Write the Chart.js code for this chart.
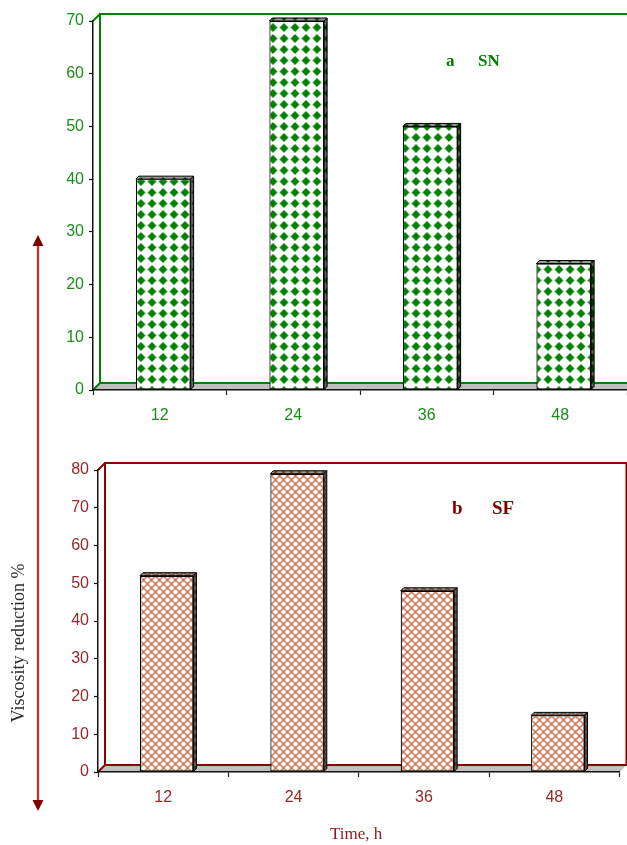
<!DOCTYPE html>
<html>
<head>
<meta charset="utf-8">
<script src="https://cdn.jsdelivr.net/npm/chart.js@4.4.1/dist/chart.umd.min.js"></script>
<style>
  html, body { margin: 0; padding: 0; background: #fff; }
  #wrap { position: relative; width: 627px; height: 845px; overflow: hidden; }
  #c1 { position: absolute; left: 0; top: 0; }
  #c2 { position: absolute; left: 0; top: 440px; }
  .lbl { position: absolute; white-space: nowrap; line-height: 1; font-family: "Liberation Serif", "Times New Roman", serif; }
  #arrow { position: absolute; left: 0; top: 0; pointer-events: none; }
</style>
</head>
<body>
<div id="wrap">
  <canvas id="c1" width="627" height="440"></canvas>
  <canvas id="c2" width="627" height="405"></canvas>

  <svg id="arrow" width="627" height="845">
    <line x1="38" y1="244" x2="38" y2="801" stroke="#a83c3c" stroke-width="2.4"/>
    <polygon points="38,235 32.5,246 43.5,246" fill="#800000"/>
    <polygon points="38,811 32.5,800 43.5,800" fill="#800000"/>
  </svg>

  <span class="lbl" style="left:446px; top:52px; font-size:17px; font-weight:bold; color:#008000;">a</span>
  <span class="lbl" style="left:478px; top:52px; font-size:17px; font-weight:bold; color:#008000;">SN</span>
  <span class="lbl" style="left:452px; top:498px; font-size:19px; font-weight:bold; color:#800000;">b</span>
  <span class="lbl" style="left:492px; top:498px; font-size:19px; font-weight:bold; color:#800000;">SF</span>

  <span class="lbl" style="left:330px; top:825px; font-size:17px; color:#8b1a1a;">Time, h</span>
  <div class="lbl" style="left:18px; top:643px; font-size:18px; color:#2a2a2a; transform: translate(-50%, -50%) rotate(-90deg);">Viscosity reduction %</div>
</div>

<script>
// Reaction time (h) and viscosity reduction (%) for the two oils
const timeLabels = ['12', '24', '36', '48'];
const snValues = [40, 70, 50, 24];
const sfValues = [52, 79, 48, 15];
const snAxisMax = 70;
const sfAxisMax = 80;
const axisStep = 10;

// Fill patterns for the bars
function diamondPattern(color) {
  const s = 11, c = document.createElement('canvas');
  c.width = s; c.height = s;
  const g = c.getContext('2d');
  g.fillStyle = '#fff'; g.fillRect(0, 0, s, s);
  g.fillStyle = color;
  const m = s / 2, r = 4.4;
  g.beginPath();
  g.moveTo(m, m - r); g.lineTo(m + r, m); g.lineTo(m, m + r); g.lineTo(m - r, m);
  g.closePath(); g.fill();
  return g.createPattern(c, 'repeat');
}
function hatchPattern(color) {
  const s = 8, c = document.createElement('canvas');
  c.width = s; c.height = s;
  const g = c.getContext('2d');
  g.fillStyle = '#fff'; g.fillRect(0, 0, s, s);
  g.strokeStyle = color; g.lineWidth = 1.3;
  g.beginPath();
  g.moveTo(-1, -1); g.lineTo(s + 1, s + 1);
  g.moveTo(s + 1, -1); g.lineTo(-1, s + 1);
  g.stroke();
  return g.createPattern(c, 'repeat');
}

// Pseudo-3D box: back wall, floor, and depth faces on the bars
function depthPlugin(wallColor, depth, barDepth, shift) {
  return {
    id: 'depth3d',
    beforeDraw(chart) {
      const { ctx, chartArea: a } = chart;
      const D = depth;
      ctx.save();
      // floor
      ctx.fillStyle = '#c0c0c0';
      ctx.beginPath();
      ctx.moveTo(a.left, a.bottom);
      ctx.lineTo(a.left + D, a.bottom - D);
      ctx.lineTo(a.right + D, a.bottom - D);
      ctx.lineTo(a.right, a.bottom);
      ctx.closePath(); ctx.fill();
      // wall outline
      ctx.strokeStyle = wallColor;
      ctx.lineWidth = 2;
      ctx.beginPath();
      ctx.moveTo(a.left, a.top); ctx.lineTo(a.left + D, a.top - D);
      ctx.moveTo(a.left, a.bottom); ctx.lineTo(a.left + D, a.bottom - D);
      ctx.rect(a.left + D, a.top - D, a.right - a.left, a.bottom - a.top);
      ctx.stroke();
      ctx.restore();
    },
    beforeDatasetsDraw(chart) {
      chart.ctx.save();
      chart.ctx.translate(shift, 0);
    },
    afterDatasetsDraw(chart) {
      const ctx = chart.ctx;
      const meta = chart.getDatasetMeta(0);
      const fill = chart.data.datasets[0].backgroundColor;
      const d = barDepth;
      meta.data.forEach(bar => {
        const p = bar.getProps(['x', 'y', 'base', 'width'], true);
        const l = p.x - p.width / 2, r = p.x + p.width / 2, t = p.y, b = p.base;
        const faces = [
          { pts: [[l, t], [l + d, t - d], [r + d, t - d], [r, t]], shade: 'rgba(0,0,0,0.4)' },
          { pts: [[r, t], [r + d, t - d], [r + d, b - d], [r, b]], shade: 'rgba(0,0,0,0.62)' }
        ];
        faces.forEach(f => {
          ctx.beginPath();
          f.pts.forEach((q, i) => i ? ctx.lineTo(q[0], q[1]) : ctx.moveTo(q[0], q[1]));
          ctx.closePath();
          ctx.fillStyle = fill; ctx.fill();
          ctx.fillStyle = f.shade; ctx.fill();
          ctx.strokeStyle = '#000'; ctx.lineWidth = 1; ctx.stroke();
        });
      });
      ctx.restore();
    }
  };
}

function makeChart(id, values, axisMax, fill, textColor, wallColor, box) {
  return new Chart(document.getElementById(id), {
    type: 'bar',
    data: {
      labels: timeLabels,
      datasets: [{
        data: values,
        backgroundColor: fill,
        borderColor: '#000',
        borderWidth: 1.2,
        borderSkipped: false,
        categoryPercentage: 1,
        barPercentage: 0.41,
        clip: false
      }]
    },
    options: {
      responsive: false,
      animation: false,
      events: [],
      layout: { padding: { top: box.top, right: box.right, left: 0, bottom: 0 } },
      plugins: { legend: { display: false }, tooltip: { enabled: false }, title: { display: false } },
      scales: {
        x: {
          afterFit(s) { s.height = box.xHeight; },
          grid: { drawOnChartArea: false, drawTicks: true, tickLength: 5, tickColor: '#222', tickWidth: 1.2 },
          border: { display: true, color: '#111', width: 1.5 },
          ticks: { color: textColor, padding: 11, font: { family: 'Liberation Sans', size: 16 } }
        },
        y: {
          min: 0, max: axisMax,
          afterFit(s) { s.width = box.left; },
          grid: { drawOnChartArea: false, drawTicks: true, tickLength: 4, tickColor: '#111', tickWidth: 1.2 },
          border: { display: true, color: '#111', width: 1.5 },
          ticks: { stepSize: axisStep, color: textColor, padding: 5, font: { family: 'Liberation Sans', size: 16 } }
        }
      }
    },
    plugins: [depthPlugin(wallColor, 7, 3, 3.5)]
  });
}

makeChart('c1', snValues, snAxisMax, diamondPattern('#008000'), '#1a8c1a', '#008000',
  { top: 21, right: 0, left: 93, xHeight: 50 });
makeChart('c2', sfValues, sfAxisMax, hatchPattern('#c4643a'), '#952828', '#8b0000',
  { top: 30, right: 7.5, left: 98, xHeight: 73 });
</script>
</body>
</html>
